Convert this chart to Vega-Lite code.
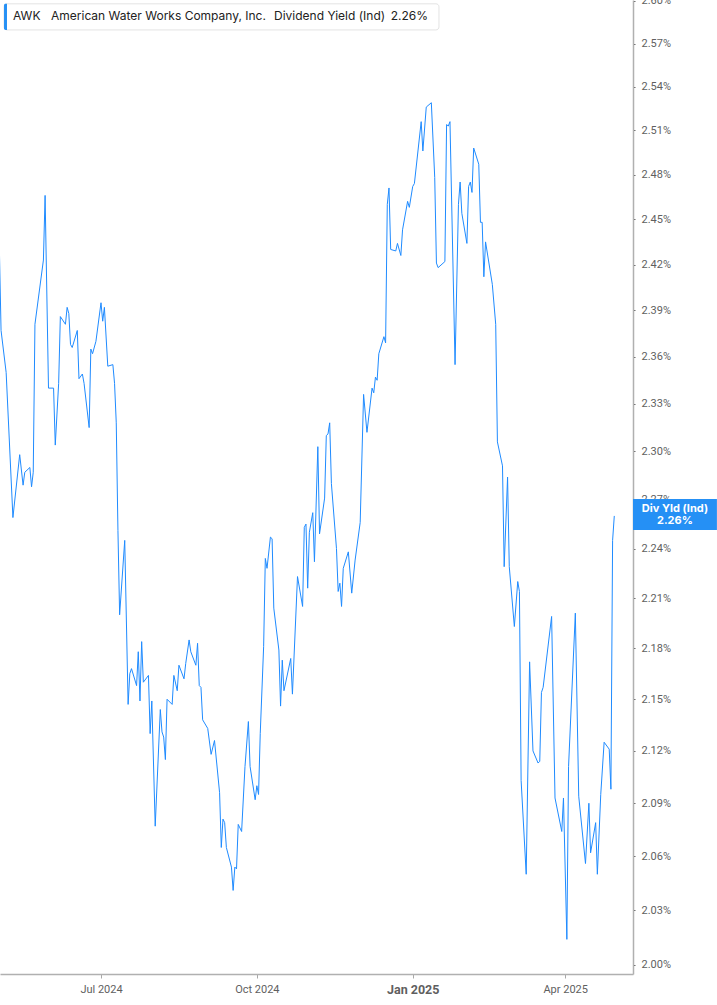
{
  "$schema": "https://vega.github.io/schema/vega-lite/v6.json",
  "width": 633,
  "height": 974,
  "autosize": {"type": "none"},
  "padding": {"top": 0, "left": 0, "right": 84, "bottom": 31},
  "background": "white",
  "config": {
    "view": {"stroke": null},
    "font": "Inter",
    "axis": {"grid": false, "title": null}
  },
  "datasets": {
    "yield": [
      {"date": "2024-05-02", "v": 2.430}, {"date": "2024-05-03", "v": 2.377}, {"date": "2024-05-06", "v": 2.350},
      {"date": "2024-05-10", "v": 2.259}, {"date": "2024-05-14", "v": 2.298}, {"date": "2024-05-16", "v": 2.279},
      {"date": "2024-05-17", "v": 2.287}, {"date": "2024-05-20", "v": 2.290}, {"date": "2024-05-21", "v": 2.278},
      {"date": "2024-05-22", "v": 2.287}, {"date": "2024-05-23", "v": 2.381}, {"date": "2024-05-28", "v": 2.423},
      {"date": "2024-05-29", "v": 2.466}, {"date": "2024-05-31", "v": 2.340}, {"date": "2024-06-03", "v": 2.340},
      {"date": "2024-06-04", "v": 2.304}, {"date": "2024-06-06", "v": 2.343}, {"date": "2024-06-07", "v": 2.386},
      {"date": "2024-06-10", "v": 2.381}, {"date": "2024-06-11", "v": 2.392}, {"date": "2024-06-12", "v": 2.388},
      {"date": "2024-06-13", "v": 2.368}, {"date": "2024-06-14", "v": 2.366}, {"date": "2024-06-17", "v": 2.377},
      {"date": "2024-06-18", "v": 2.346}, {"date": "2024-06-20", "v": 2.349}, {"date": "2024-06-21", "v": 2.343},
      {"date": "2024-06-24", "v": 2.315}, {"date": "2024-06-25", "v": 2.365}, {"date": "2024-06-26", "v": 2.362},
      {"date": "2024-06-28", "v": 2.370}, {"date": "2024-07-01", "v": 2.395}, {"date": "2024-07-02", "v": 2.383},
      {"date": "2024-07-03", "v": 2.392}, {"date": "2024-07-05", "v": 2.354}, {"date": "2024-07-08", "v": 2.355},
      {"date": "2024-07-09", "v": 2.343}, {"date": "2024-07-10", "v": 2.318}, {"date": "2024-07-11", "v": 2.251},
      {"date": "2024-07-12", "v": 2.200}, {"date": "2024-07-15", "v": 2.245}, {"date": "2024-07-17", "v": 2.147},
      {"date": "2024-07-18", "v": 2.165}, {"date": "2024-07-19", "v": 2.168}, {"date": "2024-07-22", "v": 2.158},
      {"date": "2024-07-23", "v": 2.178}, {"date": "2024-07-24", "v": 2.149}, {"date": "2024-07-25", "v": 2.184},
      {"date": "2024-07-26", "v": 2.160}, {"date": "2024-07-29", "v": 2.164}, {"date": "2024-07-30", "v": 2.130},
      {"date": "2024-07-31", "v": 2.149}, {"date": "2024-08-02", "v": 2.077}, {"date": "2024-08-05", "v": 2.144},
      {"date": "2024-08-06", "v": 2.131}, {"date": "2024-08-07", "v": 2.128}, {"date": "2024-08-08", "v": 2.115},
      {"date": "2024-08-09", "v": 2.150}, {"date": "2024-08-12", "v": 2.147}, {"date": "2024-08-13", "v": 2.164},
      {"date": "2024-08-15", "v": 2.155}, {"date": "2024-08-16", "v": 2.170}, {"date": "2024-08-19", "v": 2.162},
      {"date": "2024-08-20", "v": 2.171}, {"date": "2024-08-22", "v": 2.185}, {"date": "2024-08-23", "v": 2.178},
      {"date": "2024-08-26", "v": 2.170}, {"date": "2024-08-27", "v": 2.183}, {"date": "2024-08-28", "v": 2.158},
      {"date": "2024-08-29", "v": 2.157}, {"date": "2024-08-30", "v": 2.138}, {"date": "2024-09-02", "v": 2.133},
      {"date": "2024-09-04", "v": 2.118}, {"date": "2024-09-06", "v": 2.126}, {"date": "2024-09-09", "v": 2.096},
      {"date": "2024-09-10", "v": 2.065}, {"date": "2024-09-11", "v": 2.081}, {"date": "2024-09-12", "v": 2.079},
      {"date": "2024-09-13", "v": 2.065}, {"date": "2024-09-16", "v": 2.054}, {"date": "2024-09-17", "v": 2.041},
      {"date": "2024-09-18", "v": 2.054}, {"date": "2024-09-19", "v": 2.053}, {"date": "2024-09-20", "v": 2.078},
      {"date": "2024-09-22", "v": 2.074}, {"date": "2024-09-24", "v": 2.111}, {"date": "2024-09-26", "v": 2.137},
      {"date": "2024-09-27", "v": 2.111}, {"date": "2024-09-30", "v": 2.092}, {"date": "2024-10-01", "v": 2.100},
      {"date": "2024-10-02", "v": 2.095}, {"date": "2024-10-03", "v": 2.130}, {"date": "2024-10-05", "v": 2.181},
      {"date": "2024-10-06", "v": 2.234}, {"date": "2024-10-07", "v": 2.228}, {"date": "2024-10-09", "v": 2.247},
      {"date": "2024-10-10", "v": 2.246}, {"date": "2024-10-11", "v": 2.204}, {"date": "2024-10-14", "v": 2.179},
      {"date": "2024-10-15", "v": 2.146}, {"date": "2024-10-16", "v": 2.173}, {"date": "2024-10-17", "v": 2.155},
      {"date": "2024-10-21", "v": 2.174}, {"date": "2024-10-22", "v": 2.153}, {"date": "2024-10-25", "v": 2.223},
      {"date": "2024-10-28", "v": 2.205}, {"date": "2024-10-29", "v": 2.253}, {"date": "2024-10-30", "v": 2.255},
      {"date": "2024-10-31", "v": 2.216}, {"date": "2024-11-01", "v": 2.250}, {"date": "2024-11-03", "v": 2.262},
      {"date": "2024-11-04", "v": 2.232}, {"date": "2024-11-06", "v": 2.303}, {"date": "2024-11-07", "v": 2.249},
      {"date": "2024-11-10", "v": 2.271}, {"date": "2024-11-11", "v": 2.310}, {"date": "2024-11-12", "v": 2.311},
      {"date": "2024-11-13", "v": 2.318}, {"date": "2024-11-14", "v": 2.280}, {"date": "2024-11-17", "v": 2.240},
      {"date": "2024-11-18", "v": 2.214}, {"date": "2024-11-19", "v": 2.219}, {"date": "2024-11-20", "v": 2.205},
      {"date": "2024-11-21", "v": 2.228}, {"date": "2024-11-24", "v": 2.238}, {"date": "2024-11-26", "v": 2.213},
      {"date": "2024-11-28", "v": 2.233}, {"date": "2024-12-01", "v": 2.256}, {"date": "2024-12-03", "v": 2.336},
      {"date": "2024-12-05", "v": 2.312}, {"date": "2024-12-08", "v": 2.340}, {"date": "2024-12-09", "v": 2.337},
      {"date": "2024-12-10", "v": 2.347}, {"date": "2024-12-11", "v": 2.345}, {"date": "2024-12-12", "v": 2.362},
      {"date": "2024-12-15", "v": 2.373}, {"date": "2024-12-16", "v": 2.369}, {"date": "2024-12-17", "v": 2.460},
      {"date": "2024-12-18", "v": 2.471}, {"date": "2024-12-19", "v": 2.430}, {"date": "2024-12-22", "v": 2.429},
      {"date": "2024-12-23", "v": 2.434}, {"date": "2024-12-25", "v": 2.426}, {"date": "2024-12-26", "v": 2.443},
      {"date": "2024-12-29", "v": 2.462}, {"date": "2024-12-30", "v": 2.458}, {"date": "2025-01-01", "v": 2.472},
      {"date": "2025-01-02", "v": 2.474}, {"date": "2025-01-06", "v": 2.516}, {"date": "2025-01-07", "v": 2.496},
      {"date": "2025-01-09", "v": 2.526}, {"date": "2025-01-12", "v": 2.529}, {"date": "2025-01-14", "v": 2.478},
      {"date": "2025-01-15", "v": 2.421}, {"date": "2025-01-16", "v": 2.418}, {"date": "2025-01-20", "v": 2.422},
      {"date": "2025-01-21", "v": 2.514}, {"date": "2025-01-22", "v": 2.513}, {"date": "2025-01-23", "v": 2.516},
      {"date": "2025-01-26", "v": 2.355}, {"date": "2025-01-28", "v": 2.460}, {"date": "2025-01-29", "v": 2.475},
      {"date": "2025-01-30", "v": 2.454}, {"date": "2025-02-02", "v": 2.434}, {"date": "2025-02-03", "v": 2.472},
      {"date": "2025-02-04", "v": 2.475}, {"date": "2025-02-05", "v": 2.468}, {"date": "2025-02-06", "v": 2.498},
      {"date": "2025-02-09", "v": 2.487}, {"date": "2025-02-10", "v": 2.448}, {"date": "2025-02-11", "v": 2.448},
      {"date": "2025-02-12", "v": 2.412}, {"date": "2025-02-13", "v": 2.435}, {"date": "2025-02-17", "v": 2.407},
      {"date": "2025-02-19", "v": 2.381}, {"date": "2025-02-20", "v": 2.306}, {"date": "2025-02-23", "v": 2.291},
      {"date": "2025-02-24", "v": 2.229}, {"date": "2025-02-26", "v": 2.284}, {"date": "2025-02-27", "v": 2.229},
      {"date": "2025-03-02", "v": 2.193}, {"date": "2025-03-04", "v": 2.220}, {"date": "2025-03-05", "v": 2.214},
      {"date": "2025-03-06", "v": 2.103}, {"date": "2025-03-09", "v": 2.050}, {"date": "2025-03-11", "v": 2.172},
      {"date": "2025-03-13", "v": 2.120}, {"date": "2025-03-16", "v": 2.113}, {"date": "2025-03-17", "v": 2.114},
      {"date": "2025-03-18", "v": 2.154}, {"date": "2025-03-19", "v": 2.157}, {"date": "2025-03-24", "v": 2.199},
      {"date": "2025-03-26", "v": 2.093}, {"date": "2025-03-30", "v": 2.074}, {"date": "2025-03-31", "v": 2.093},
      {"date": "2025-04-02", "v": 2.014}, {"date": "2025-04-03", "v": 2.111}, {"date": "2025-04-07", "v": 2.201},
      {"date": "2025-04-09", "v": 2.094}, {"date": "2025-04-13", "v": 2.056}, {"date": "2025-04-15", "v": 2.090},
      {"date": "2025-04-16", "v": 2.062}, {"date": "2025-04-19", "v": 2.079}, {"date": "2025-04-20", "v": 2.050},
      {"date": "2025-04-22", "v": 2.095}, {"date": "2025-04-24", "v": 2.125}, {"date": "2025-04-27", "v": 2.121},
      {"date": "2025-04-28", "v": 2.098}, {"date": "2025-04-29", "v": 2.245}, {"date": "2025-04-30", "v": 2.260}
    ]
  },
  "layer": [
    {
      "data": {"name": "yield"},
      "mark": {"type": "line", "color": "#1f8bff", "strokeWidth": 1, "clip": true},
      "encoding": {
        "x": {
          "field": "date",
          "type": "temporal",
          "scale": {"type": "utc", "domain": ["2024-05-02T09:00:00Z", "2025-05-11T01:00:00Z"]},
          "axis": {
            "values": [
              {"year": 2024, "month": 7, "date": 1, "utc": true},
              {"year": 2024, "month": 10, "date": 1, "utc": true},
              {"year": 2025, "month": 1, "date": 1, "utc": true},
              {"year": 2025, "month": 4, "date": 1, "utc": true}
            ],
            "labelExpr": "utcFormat(datum.value, '%b %Y')",
            "labelFontSize": {"condition": {"test": "utcmonth(datum.value) == 0", "value": 12.5}, "value": 11},
            "labelFontWeight": {"condition": {"test": "utcmonth(datum.value) == 0", "value": "bold"}, "value": "normal"},
            "labelColor": "#5f5f5f",
            "labelFont": "Roboto",
            "labelPadding": 5,
            "tickSize": 4,
            "tickColor": "#a8a8a8",
            "domainColor": "#b0b0b0",
            "domainWidth": 1.5
          }
        },
        "y": {
          "field": "v",
          "type": "quantitative",
          "scale": {"type": "log", "domain": [1.9951, 2.6007], "nice": false, "zero": false},
          "axis": {
            "orient": "right",
            "values": [2.00, 2.03, 2.06, 2.09, 2.12, 2.15, 2.18, 2.21, 2.24, 2.27, 2.30, 2.33, 2.36, 2.39, 2.42, 2.45, 2.48, 2.51, 2.54, 2.57, 2.60],
            "labelExpr": "format(datum.value, '.2f') + '%'",
            "labelColor": "#5f5f5f",
            "labelFont": "Roboto",
            "labelFontSize": 11,
            "labelPadding": 6,
            "tickSize": 2,
            "tickColor": "#666666",
            "domainColor": "#b0b0b0",
            "domainWidth": 1.5
          }
        }
      }
    },
    {
      "data": {"values": [{"x1": "2024-05-04T18:00:00Z", "x2": "2025-01-16T12:00:00Z", "y1": 2.5980, "y2": 2.5796}]},
      "mark": {"type": "rect", "fill": "white", "stroke": "#e3e3e3", "strokeWidth": 1, "cornerRadius": 3},
      "encoding": {
        "x": {"field": "x1", "type": "temporal"},
        "x2": {"field": "x2"},
        "y": {"field": "y1", "type": "quantitative"},
        "y2": {"field": "y2"}
      }
    },
    {
      "data": {"values": [{"x1": "2024-05-04T18:00:00Z", "x2": "2024-05-06T12:00:00Z", "y1": 2.5980, "y2": 2.5796}]},
      "mark": {"type": "rect", "fill": "#2590f5", "cornerRadiusTopLeft": 2, "cornerRadiusBottomLeft": 2},
      "encoding": {
        "x": {"field": "x1", "type": "temporal"},
        "x2": {"field": "x2"},
        "y": {"field": "y1", "type": "quantitative"},
        "y2": {"field": "y2"}
      }
    },
    {
      "data": {
        "values": [
          {"t": "2024-05-10T01:00:00Z", "y": 2.5891, "label": "AWK", "w": "bold"},
          {"t": "2024-06-01T11:30:00Z", "y": 2.5891, "label": "American Water Works Company, Inc.", "w": "bold"},
          {"t": "2024-10-11T03:00:00Z", "y": 2.5891, "label": "Dividend Yield (Ind)", "w": "normal"},
          {"t": "2024-12-19T00:00:00Z", "y": 2.5891, "label": "2.26%", "w": "bold"}
        ]
      },
      "mark": {"type": "text", "align": "left", "baseline": "middle", "fontSize": 12, "color": "#222222"},
      "encoding": {
        "x": {"field": "t", "type": "temporal"},
        "y": {"field": "y", "type": "quantitative"},
        "text": {"field": "label"},
        "fontWeight": {"field": "w", "type": "nominal", "scale": null}
      }
    },
    {
      "data": {"values": [{"x1": "2025-05-11T01:00:00Z", "x2": "2025-06-29T14:00:00Z", "y1": 2.2705, "y2": 2.2514}]},
      "mark": {"type": "rect", "fill": "#2590f5", "clip": false},
      "encoding": {
        "x": {"field": "x1", "type": "temporal"},
        "x2": {"field": "x2"},
        "y": {"field": "y1", "type": "quantitative"},
        "y2": {"field": "y2"}
      }
    },
    {
      "data": {
        "values": [
          {"t": "2025-06-04T19:00:00Z", "y": 2.2643, "label": "Div Yld (Ind)"},
          {"t": "2025-06-04T19:00:00Z", "y": 2.2569, "label": "2.26%"}
        ]
      },
      "mark": {"type": "text", "align": "center", "baseline": "middle", "fontSize": 11, "fontWeight": "bold", "color": "white", "clip": false},
      "encoding": {
        "x": {"field": "t", "type": "temporal"},
        "y": {"field": "y", "type": "quantitative"},
        "text": {"field": "label"}
      }
    }
  ]
}
